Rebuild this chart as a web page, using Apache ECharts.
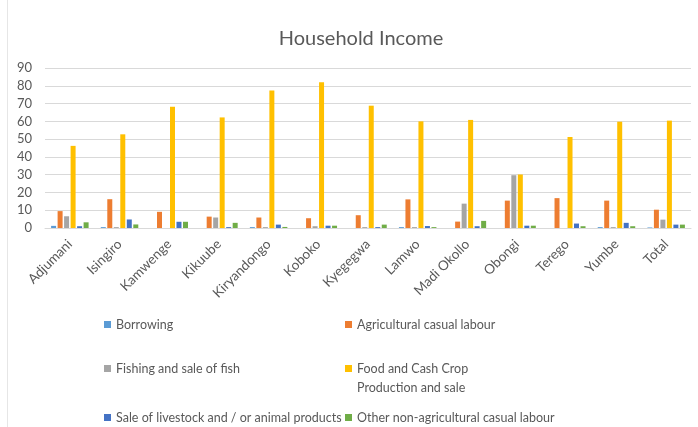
<!DOCTYPE html>
<html>
<head>
<meta charset="utf-8">
<script src="https://cdn.jsdelivr.net/npm/echarts@6/dist/echarts.min.js"></script>
<style>
  html, body { margin: 0; padding: 0; background: #fff; }
  #main { width: 698px; height: 427px; }
</style>
</head>
<body>
<div id="main"></div>
<script>
// 区县
var categories = ["Adjumani", "Isingiro", "Kamwenge", "Kikuube", "Kiryandongo", "Koboko",
  "Kyegegwa", "Lamwo", "Madi Okollo", "Obongi", "Terego", "Yumbe", "Total"];
var yTicks = [0, 10, 20, 30, 40, 50, 60, 70, 80, 90];

// 各收入来源 (%)
var borrowing   = [1.2, 0.5, 0,    0,    0.5,  0,    0,    0.5,  0,    0,    0,    0.5,  0.3];
var agriLabour  = [9.5, 16.2, 9.1, 6.4,  5.9,  5.5,  7.2,  16.1, 3.6,  15.4, 16.8, 15.4, 10.3];
var fishing     = [6.6, 0.5, 0,    5.9,  0.5,  1.0,  0.5,  0.5,  13.7, 29.7, 0,    0.5,  4.7];
var foodCrop    = [46.2, 52.7, 68.2, 62.2, 77.3, 82.0, 68.8, 60.0, 60.8, 30.1, 51.2, 59.8, 60.4];
var livestock   = [1.0, 4.8, 3.5,  0.5,  1.9,  1.3,  0.5,  1.1,  1.0,  1.3,  2.5,  2.9,  1.9];
var otherLabour = [3.2, 2.0, 3.5,  2.9,  0.6,  1.3,  1.9,  0.5,  4.0,  1.3,  1.0,  1.0,  1.9];

var names = ["Borrowing", "Agricultural casual labour", "Fishing and sale of fish",
  "Food and Cash Crop Production and sale", "Sale of livestock and / or animal products",
  "Other non-agricultural casual labour"];
var colors = ["#5B9BD5", "#ED7D31", "#A5A5A5", "#FFC000", "#4472C4", "#70AD47"];
var values = [borrowing, agriLabour, fishing, foodCrop, livestock, otherLabour];

var myChart = echarts.init(document.getElementById("main"));
var font = "Lato, 'Open Sans', sans-serif";
var textColor = "#595959";

// 图例位置 (两列)
var legendPos = [[104, 318], [345, 318], [104, 362], [345, 362], [104, 411], [345, 411]];

var option = {
  animation: false,
  color: colors,
  title: {
    text: "Household Income",
    left: 356,
    top: 24,
    textAlign: "center",
    textStyle: { fontFamily: font, fontSize: 20, fontWeight: "normal", color: textColor }
  },
  legend: names.map(function (n, i) {
    return {
      data: [n],
      left: legendPos[i][0],
      top: legendPos[i][1],
      padding: 0,
      itemWidth: 7,
      itemHeight: 7,
      icon: "rect",
      formatter: function (name) {
        // 第二行单独画
        return name.replace(" Production and sale", "");
      },
      textStyle: { fontFamily: font, fontSize: 12.5, color: textColor }
    };
  }),
  graphic: [
    {
      type: "text",
      left: 357,
      top: 381,
      style: { text: "Production and sale", font: "12.5px " + font, fill: textColor }
    },
    {
      type: "line",
      shape: { x1: 7.5, y1: 0, x2: 7.5, y2: 427 },
      style: { stroke: "#e6e6e6", lineWidth: 1 }
    }
  ],
  grid: { left: 45, right: 7, top: 68, bottom: 199, containLabel: false },
  xAxis: {
    type: "category",
    data: categories,
    axisLine: { lineStyle: { color: "#d9d9d9" } },
    axisTick: { show: false },
    axisLabel: {
      rotate: 45,
      interval: 0,
      margin: 14,
      fontFamily: font,
      fontSize: 13.5,
      color: textColor
    }
  },
  yAxis: {
    type: "value",
    min: 0,
    max: 90,
    interval: 10,
    axisLine: { show: false },
    axisTick: { show: false },
    splitLine: { lineStyle: { color: "#d9d9d9" } },
    axisLabel: { fontFamily: font, fontSize: 13, color: textColor, margin: 13 }
  },
  series: names.map(function (n, i) {
    return {
      name: n,
      type: "bar",
      data: values[i],
      barWidth: 5,
      barGap: "30%"
    };
  })
};

option && myChart.setOption(option);
</script>
</body>
</html>
